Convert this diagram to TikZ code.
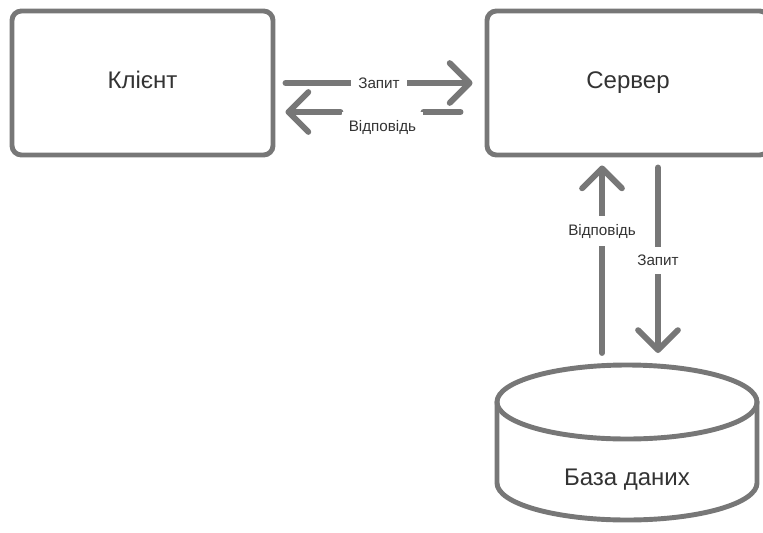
\documentclass[tikz,border=0pt]{standalone}
\usepackage{fontspec}
\setmainfont{Liberation Sans}
\usetikzlibrary{arrows.meta,positioning,calc}
\definecolor{LineGray}{HTML}{777777}
\definecolor{TextDark}{HTML}{333333}

\begin{document}
\begin{tikzpicture}[
    x=0.03cm, y=-0.03cm,
    box/.style={draw=LineGray, rounded corners=8pt, fill=white, line width=4.2pt, minimum height=4.32cm, font=\fontsize{20.5}{24}\selectfont, text=TextDark, text height=0.95em, text depth=0em},
    lbl/.style={fill=white, font=\fontsize{13}{15}\selectfont, text=TextDark, inner xsep=6pt, inner ysep=7pt},
    line/.style={draw=LineGray, line width=5pt, line cap=round},
    arrow/.style={line, -{Straight Barb[length=17pt, width=34pt, round]}}
]
  \useasboundingbox (0,0) rectangle (763,532);
  \clip (0,0) rectangle (763,532);

  % =========================================================================
  % BOXES
  % =========================================================================
  \node[box, minimum width=7.83cm] (client) at (142.5, 83) {Клієнт};
  \node[box, minimum width=8.46cm] (server) at (628, 83) {Сервер};

  % Database cylinder
  \coordinate (dbtop) at (627, 365);
  \draw[line, line width=4.2pt] (497, 402) -- (497, 483)
      arc[start angle=180, end angle=360, x radius=3.9cm, y radius=1.11cm] -- (757, 402);
  \draw[line, line width=4.2pt] (627, 402) ellipse[x radius=3.9cm, y radius=1.11cm];
  \node[font=\fontsize{20.5}{24}\selectfont, text=TextDark] (db) at (627, 480) {База даних};

  % =========================================================================
  % CLIENT <-> SERVER
  % =========================================================================
  \draw[arrow] ($(client.east)+(10,0)$) -- node[lbl] (q_top) {Запит} ($(server.west)+(-12,0)$);

  \draw[line] ($(server.west)+(-24,29)$) -- ($(client.east)+(148,29)$);
  \draw[arrow] ($(client.east)+(65,29)$) -- ($(client.east)+(10,29)$);
  \node[lbl] (r_top) at ($(client.east)+(107,44)$) {Відповідь};

  % =========================================================================
  % SERVER <-> DATABASE
  % =========================================================================
  \draw[arrow] ($(dbtop)+(-25,-12)$) -- node[lbl, pos=0.65] (r_db) {Відповідь} ($(server.south)+(-26,8)$);
  \draw[arrow] ($(server.south)+(30,10)$) -- node[lbl] (q_db) {Запит} ($(dbtop)+(31,-12)$);

\end{tikzpicture}
\end{document}
